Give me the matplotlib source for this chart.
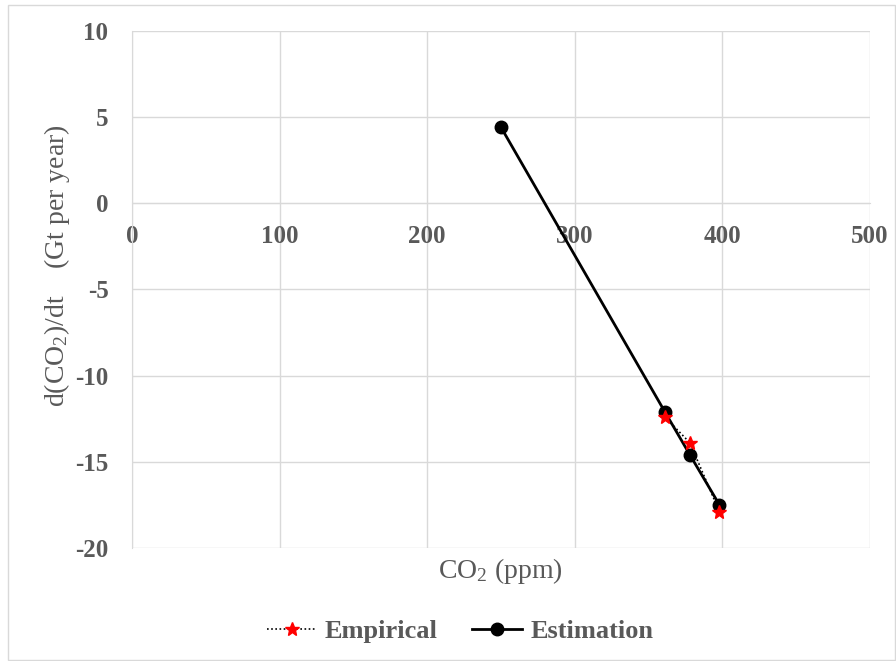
import matplotlib
matplotlib.use("Agg")
import matplotlib.pyplot as plt
from matplotlib.patches import Rectangle

plt.rcParams['axes.unicode_minus'] = False
plt.rcParams['font.family'] = ['Liberation Serif', 'DejaVu Serif']
plt.rcParams['mathtext.fontset'] = 'custom'
plt.rcParams['mathtext.rm'] = 'Liberation Serif'
plt.rcParams['mathtext.it'] = 'Liberation Serif:italic'
plt.rcParams['mathtext.bf'] = 'Liberation Serif:bold'

emp_x = [361, 378, 398]
emp_y = [-12.4, -13.9, -17.9]
est_x = [250, 361, 378, 398]
est_y = [4.4, -12.1, -14.6, -17.5]
x_ticks = [0, 100, 200, 300, 400, 500]
y_ticks = [-20, -15, -10, -5, 0, 5, 10]

grey = '#595959'
grid = '#d9d9d9'

fig = plt.figure(figsize=(8.96, 6.61), dpi=100)
fig.patches.append(Rectangle((8/896, 0.002), 1 - 9/896, 1 - 5/661 - 0.002,
                             transform=fig.transFigure, fill=False,
                             edgecolor='#d9d9d9', linewidth=1.0))
ax = fig.add_axes([132/896, 1 - 548/661, (870 - 132)/896, (548 - 30.7)/661])

ax.plot(est_x, est_y, color='black', linewidth=2, marker='o', markersize=9,
        label='Estimation', zorder=3)
ax.plot(emp_x, emp_y, color='black', linestyle=(0, (1, 1.5)), linewidth=1.2,
        marker='*', markersize=10, markerfacecolor='red', markeredgecolor='red',
        label='Empirical', zorder=4)

ax.set_xlim(0, 500)
ax.set_ylim(-20, 10)
ax.set_xticks(x_ticks)
ax.set_yticks(y_ticks)
ax.grid(True, color=grid, linewidth=1)
ax.set_axisbelow(True)
for s in ['top', 'right']:
    ax.spines[s].set_visible(False)
ax.spines['left'].set_color(grid)
ax.spines['bottom'].set_position(('data', 0))
ax.spines['bottom'].set_color(grid)
ax.tick_params(length=0, labelsize=18, labelcolor=grey)
ax.tick_params(axis='y', pad=17)
ax.tick_params(axis='x', pad=16)
for lab in ax.get_xticklabels() + ax.get_yticklabels():
    lab.set_fontweight('bold')

fig.text(500/896, 1 - 571/661, 'CO$_2$ (ppm)', ha='center', va='center',
         fontsize=20, color=grey)
fig.text(57/896, 1 - 266/661, 'd(CO$_2$)/dt    (Gt per year)', ha='center',
         va='center', rotation=90, fontsize=20, color=grey)

h, l = ax.get_legend_handles_labels()
leg = fig.legend([h[1], h[0]], [l[1], l[0]], loc='center', ncol=2,
                 bbox_to_anchor=(460/896, 1 - 631/661), frameon=False,
                 prop={'size': 19, 'weight': 'bold'}, handlelength=1.9,
                 handletextpad=0.3, columnspacing=1.3)
for t in leg.get_texts():
    t.set_color(grey)

fig.savefig('out.png', dpi=100)
